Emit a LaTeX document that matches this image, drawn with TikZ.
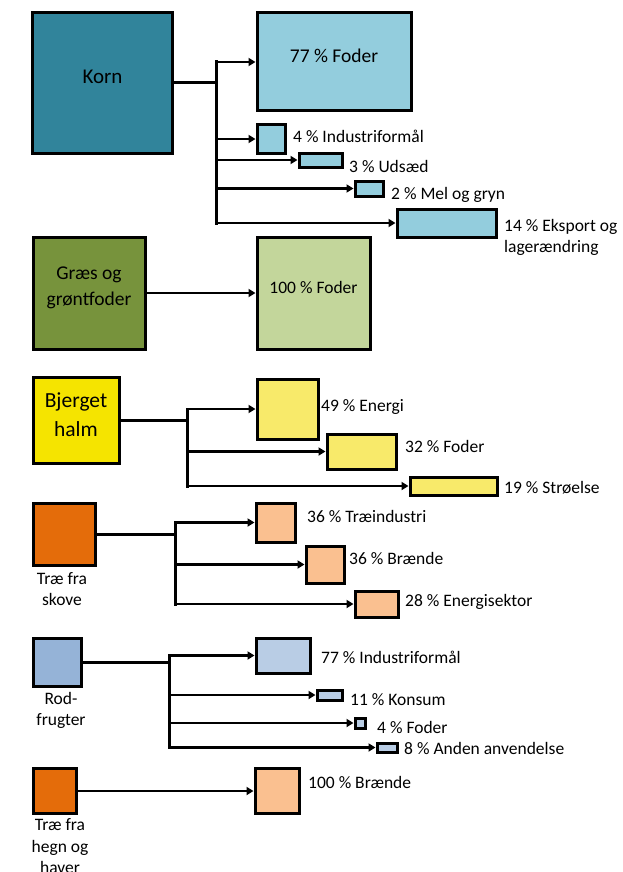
\documentclass[tikz,border=0pt]{standalone}
\usepackage{fontspec}
\setmainfont{Carlito}
\usetikzlibrary{arrows.meta}
\definecolor{korncol}{HTML}{31849B}
\definecolor{kornlight}{HTML}{93CDDD}
\definecolor{graescol}{HTML}{77933C}
\definecolor{graeslight}{HTML}{C3D69B}
\definecolor{halmcol}{HTML}{F5E400}
\definecolor{halmlight}{HTML}{F8EA6A}
\definecolor{traecol}{HTML}{E46C0A}
\definecolor{traelight}{HTML}{FAC090}
\definecolor{rodcol}{HTML}{95B3D7}
\definecolor{rodlight}{HTML}{B9CDE5}
\tikzset{
  srcbox/.style 2 args={rectangle,draw=black,line width=3pt,inner sep=0pt,minimum width=#1pt,minimum height=#2pt},
  usebox/.style 2 args={rectangle,draw=black,line width=3pt,inner sep=0pt,minimum width=#1pt,minimum height=#2pt},
  boxtxt/.style={font=\fontsize{19.5}{26}\selectfont,align=center,inner sep=0pt},
  lbl/.style={font=\fontsize{17.5}{21.5}\selectfont,align=left,inner sep=0pt,anchor=base west},
  srclbl/.style={font=\fontsize{17.5}{21.5}\selectfont,align=center,inner sep=0pt,anchor=base},
  edge/.style={-{Triangle[length=7pt,width=8pt]},line width=2.8pt},
  trunk/.style={line width=3pt,line cap=rect}
}
\begin{document}
\begin{tikzpicture}[x=1pt,y=-1pt]
  \useasboundingbox (0,0) rectangle (623,872);
  % Korn
  \node[srcbox={140}{140},fill=korncol,label={[boxtxt,font=\fontsize{21}{26}\selectfont,yshift=6pt]center:Korn}] (korn) at (102.5,83) {};
  \node[usebox={154}{98},fill=kornlight,label={[boxtxt,yshift=6pt]center:77 \% Foder}] (foder77) at (334,62) {};
  \node[usebox={28}{28},fill=kornlight] (indu4) at (271,139) {};
  \node[usebox={43}{14},fill=kornlight] (udsaed) at (320.5,160) {};
  \node[usebox={28}{15},fill=kornlight] (mel) at (369,188.5) {};
  \node[usebox={99}{28},fill=kornlight] (eksport) at (446.5,223) {};
  \node[lbl] (indu4-lbl) at (293,142.5) {4 \% Industriformål};
  \node[lbl] (udsaed-lbl) at (349,172.5) {3 \% Udsæd};
  \node[lbl] (mel-lbl) at (391,199.5) {2 \% Mel og gryn};
  \node[lbl] (eksport-lbl) at (504,252.5) {14 \% Eksport og\\lagerændring};
  \coordinate (kornsplit) at (216,0 |- korn.east);
  \draw[trunk] (korn.east) -- (kornsplit);
  \draw[trunk] (kornsplit |- foder77.west) -- (kornsplit |- eksport.west);
  \foreach \t in {foder77,indu4,udsaed,mel,eksport}
    \draw[edge] (kornsplit |- \t.west) -- (\t.west);

  % Graes og groentfoder
  \node[srcbox={112}{112},fill=graescol,label={[boxtxt,yshift=5pt]center:Græs og\\grøntfoder}] (graes) at (89,293) {};
  \node[usebox={113}{112},fill=graeslight,label={[boxtxt,font=\fontsize{17.5}{21.5}\selectfont,yshift=6pt]center:100 \% Foder}] (foder100) at (313.5,293) {};
  \draw[edge] (graes) -- (foder100);

  % Bjerget halm
  \node[srcbox={86}{86},fill=halmcol,label={[boxtxt,font=\fontsize{21.5}{29}\selectfont,yshift=5.5pt]center:Bjerget\\halm}] (halm) at (76,420) {};
  \node[usebox={61}{60},fill=halmlight] (energi) at (287.5,409) {};
  \node[usebox={69}{35},fill=halmlight] (foder32) at (361.5,451.5) {};
  \node[usebox={87}{18},fill=halmlight] (stroelse) at (453.5,486) {};
  \node[lbl] (energi-lbl) at (321,411.5) {49 \% Energi};
  \node[lbl] (foder32-lbl) at (405,452.5) {32 \% Foder};
  \node[lbl] (stroelse-lbl) at (504,493.5) {19 \% Strøelse};
  \coordinate (halmsplit) at (187.5,0 |- halm.east);
  \draw[trunk] (halm.east) -- (halmsplit);
  \draw[trunk] (halmsplit |- energi.west) -- (halmsplit |- stroelse.west);
  \foreach \t in {energi,foder32,stroelse}
    \draw[edge] (halmsplit |- \t.west) -- (\t.west);

  % Trae fra skove
  \node[srcbox={62}{62},fill=traecol] (skove) at (64,534) {};
  \node[srclbl] (skove-lbl) at (62,605.5) {Træ fra\\skove};
  \node[usebox={39}{39},fill=traelight] (traeind) at (275.5,522.5) {};
  \node[usebox={38}{37},fill=traelight] (braende36) at (325,564.5) {};
  \node[usebox={43}{26},fill=traelight] (energisek) at (376.5,604) {};
  \node[lbl] (traeind-lbl) at (307,522.5) {36 \% Træindustri};
  \node[lbl] (braende36-lbl) at (349,564.5) {36 \% Brænde};
  \node[lbl] (energisek-lbl) at (405,606.5) {28 \% Energisektor};
  \coordinate (skovesplit) at (175.6,0 |- skove.east);
  \draw[trunk] (skove.east) -- (skovesplit);
  \draw[trunk] (skovesplit |- traeind.west) -- (skovesplit |- energisek.west);
  \foreach \t in {traeind,braende36,energisek}
    \draw[edge] (skovesplit |- \t.west) -- (\t.west);

  % Rodfrugter
  \node[srcbox={48}{48},fill=rodcol] (rod) at (57,662) {};
  \node[srclbl] (rod-lbl) at (61,725.5) {Rod-\\frugter};
  \node[usebox={54}{35},fill=rodlight] (indu77) at (283,655.5) {};
  \node[usebox={25}{10},fill=rodlight] (konsum) at (329.5,695) {};
  \node[usebox={10}{10},fill=rodlight] (foder4) at (360,723) {};
  \node[usebox={20}{9},fill=rodlight] (anden) at (387,747.5) {};
  \node[lbl] (indu77-lbl) at (321,663.5) {77 \% Industriformål};
  \node[lbl] (konsum-lbl) at (350,705.5) {11 \% Konsum};
  \node[lbl] (foder4-lbl) at (377,733.5) {4 \% Foder};
  \node[lbl] (anden-lbl) at (404,754.5) {8 \% Anden anvendelse};
  \coordinate (rodsplit) at (169,0 |- rod.east);
  \draw[trunk] (rod.east) -- (rodsplit);
  \draw[trunk] (rodsplit |- indu77.west) -- (rodsplit |- anden.west);
  \foreach \t in {indu77,konsum,foder4,anden}
    \draw[edge] (rodsplit |- \t.west) -- (\t.west);

  % Trae fra hegn og haver
  \node[srcbox={43}{45},fill=traecol] (hegn) at (54.5,791) {};
  \node[srclbl] (hegn-lbl) at (60,873.5) {Træ fra\\hegn og\\haver};
  \node[usebox={44}{45},fill=traelight] (braende100) at (277,791) {};
  \node[lbl] (braende100-lbl) at (308,788.5) {100 \% Brænde};
  \draw[edge] (hegn) -- (braende100);
\end{tikzpicture}
\end{document}
